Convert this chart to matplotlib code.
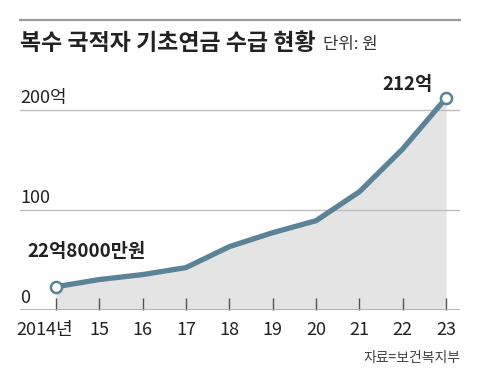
import matplotlib
matplotlib.use("Agg")
import matplotlib.pyplot as plt
from matplotlib.transforms import ScaledTranslation

plt.rcParams["font.family"] = ["Noto Sans CJK KR", "DejaVu Sans"]

years = [2014, 2015, 2016, 2017, 2018, 2019, 2020, 2021, 2022, 2023]
amounts = [22.8, 30, 35, 42, 63, 77, 89, 118, 161, 212]  # 억원
year_labels = ["2014년", "15", "16", "17", "18", "19", "20", "21", "22", "23"]
y_ticks = [0, 100, 200]
y_labels = ["0", "100", "200억"]

line_color = "#5b8398"
fill_color = "#e4e4e4"

fig = plt.figure(figsize=(4.8, 3.81), dpi=100)
ax = fig.add_axes([20 / 480, 1 - 309.5 / 381, 440 / 480, 229.5 / 381])

ax.set_xlim(2013.17, 2023.32)
ax.set_ylim(0, 230)

# background fill and grid
ax.fill_between(years, amounts, 0, color=fill_color, lw=0, zorder=1)
for v in y_ticks[1:]:
    ax.axhline(v, color="#bdbdbd", lw=1, zorder=2)
ax.axhline(0, color="#a8a8a8", lw=1.2, zorder=2)

# main line
ax.plot(years, amounts, color=line_color, lw=3.8, solid_capstyle="butt",
        solid_joinstyle="miter", zorder=3)
ax.plot([years[0], years[-1]], [amounts[0], amounts[-1]], ls="none",
        marker="o", ms=8, mfc="white", mec=line_color, mew=1.8, zorder=4)

# y labels sit above the gridlines on the left
for v, lab in zip(y_ticks, y_labels):
    ax.text(2013.17, v + 3, lab, fontsize=13, color="#222222",
            ha="left", va="bottom", zorder=5)

# x ticks point upward
ax.set_xticks(years)
ax.set_xticklabels(year_labels, fontsize=13, color="#222222")
ax.tick_params(axis="x", direction="in", length=9, width=1, color="#555555",
               pad=8)
ticklabels = ax.get_xticklabels()
ticklabels[0].set_transform(ticklabels[0].get_transform()
                            + ScaledTranslation(-11 / 100, 0, fig.dpi_scale_trans))
ax.set_yticks([])
for s in ax.spines.values():
    s.set_visible(False)

# value callouts
ax.text(years[0] - 0.67, amounts[0] + 35, "22억8000만원", fontsize=13.5,
        fontweight="bold", color="#222222", ha="left", va="center")
ax.text(years[-1] - 0.32, amounts[-1] + 13, "212억", fontsize=13.5,
        fontweight="bold", color="#222222", ha="right", va="center")

# header
fig.add_artist(plt.Line2D([20 / 480, 460 / 480], [1 - 19.5 / 381] * 2,
                          color="#999999", lw=1.6))
fig.text(20 / 480, 1 - 44 / 381, "복수 국적자 기초연금 수급 현황",
         fontsize=16.5, fontweight="bold", color="#222222",
         ha="left", va="center")
fig.text(323 / 480, 1 - 45 / 381, "단위: 원", fontsize=12, color="#333333",
         ha="left", va="center")

fig.text(460 / 480, 1 - 358 / 381, "자료=보건복지부", fontsize=10,
         color="#444444", ha="right", va="center")

fig.savefig("out.png", dpi=100)
